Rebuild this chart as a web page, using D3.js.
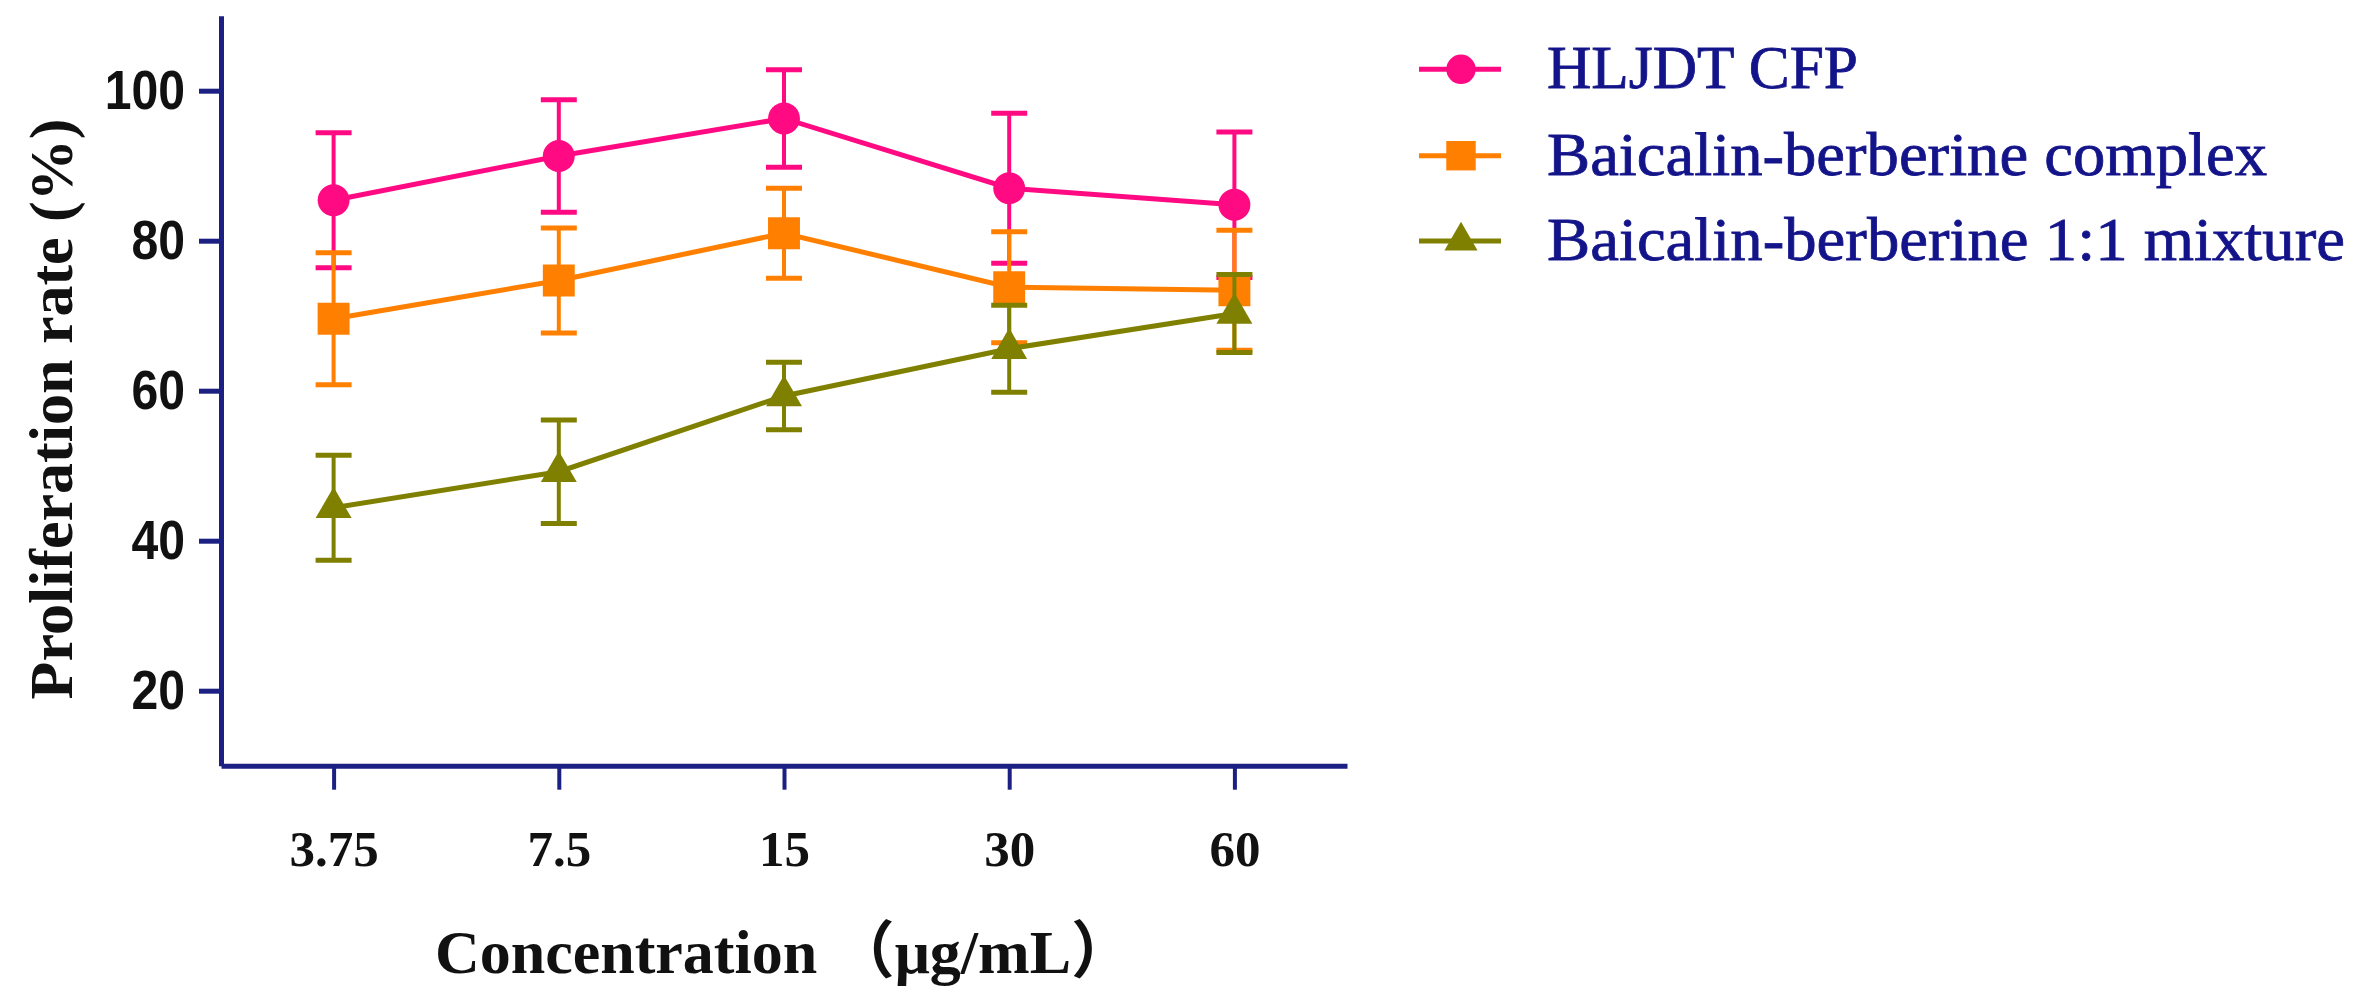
<!DOCTYPE html>
<html>
<head>
<meta charset="utf-8">
<script src="https://cdn.jsdelivr.net/npm/d3@7"></script>
<style>
    body { margin: 0; background: #fff; }
    svg { display: block; }
</style>
</head>
<body>
<svg width="2353" height="1004"></svg>
<script>
const width = 2353;
const height = 1004;

// data
const concentrations = ["3.75", "7.5", "15", "30", "60"];
const seriesNames = ["HLJDT CFP", "Baicalin-berberine complex", "Baicalin-berberine 1:1 mixture"];
const hljdtMean = [85.4, 91.3, 96.3, 87.0, 84.8];
const hljdtErr = [9.0, 7.5, 6.5, 10.0, 9.7];
const complexMean = [69.6, 74.7, 81.0, 73.8, 73.4];
const complexErr = [8.8, 7.0, 6.0, 7.4, 8.0];
const mixtureMean = [44.4, 49.2, 59.3, 65.6, 70.3];
const mixtureErr = [7.0, 6.9, 4.5, 5.8, 5.2];
const yTicks = [20, 40, 60, 80, 100];

const axisColor = "#1c2082";
const colors = ["#ff0a82", "#ff8000", "#808000"];
const symbols = [d3.symbolCircle, d3.symbolSquare, d3.symbolTriangle];
const symbolSizes = [800, 1020, 560];
const legendWidths = [311, 720, 798];

const series = [
    { name: seriesNames[0], mean: hljdtMean, err: hljdtErr },
    { name: seriesNames[1], mean: complexMean, err: complexErr },
    { name: seriesNames[2], mean: mixtureMean, err: mixtureErr }
];

const svg = d3.select("svg");

svg.append("rect")
    .attr("width", width)
    .attr("height", height)
    .attr("fill", "#fff");

// x scale
const xScale = d3.scalePoint()
    .domain(concentrations)
    .range([221, 1347])
    .padding(0.5);

// y scale
const yScale = d3.scaleLinear()
    .domain([10, 110])
    .range([765.7, 15.7]);

// y axis
const yAxis = svg.append("g")
    .attr("transform", "translate(221,0)")
    .call(d3.axisLeft(yScale)
        .tickValues(yTicks)
        .tickSize(22)
        .tickSizeOuter(0)
        .tickPadding(14));

yAxis.select(".domain").attr("stroke", axisColor).attr("stroke-width", 5);
yAxis.selectAll(".tick line").attr("stroke", axisColor).attr("stroke-width", 5);

// narrow look for the y tick numbers
const squeeze = 0.86;
yAxis.selectAll(".tick text")
    .attr("fill", "#111")
    .attr("x", -36 / squeeze)
    .attr("transform", `scale(${squeeze},1)`)
    .style("font-family", "'Liberation Sans', Arial, sans-serif")
    .style("font-weight", "bold")
    .style("font-size", "56px");

// x axis
const xAxis = svg.append("g")
    .attr("transform", "translate(0,765.7)")
    .call(d3.axisBottom(xScale)
        .tickSize(24)
        .tickSizeOuter(0)
        .tickPadding(40));

xAxis.select(".domain").attr("stroke", axisColor).attr("stroke-width", 5);
xAxis.selectAll(".tick line").attr("stroke", axisColor).attr("stroke-width", 4);
xAxis.selectAll(".tick text")
    .attr("fill", "#111")
    .style("font-family", "'Liberation Serif', 'Times New Roman', serif")
    .style("font-weight", "bold")
    .style("font-size", "51px");

// series: error bars, line, markers
const line = d3.line()
    .x((d, i) => xScale(concentrations[i]))
    .y(d => yScale(d));

const capHalf = 18;

series.forEach((s, k) => {
    const g = svg.append("g");
    const pts = s.mean.map((m, i) => ({ x: xScale(concentrations[i]), m: m, e: s.err[i] }));

    // error bars
    g.selectAll(".err")
        .data(pts)
        .join("line")
        .attr("x1", d => d.x)
        .attr("x2", d => d.x)
        .attr("y1", d => yScale(d.m + d.e))
        .attr("y2", d => yScale(d.m - d.e))
        .attr("stroke", colors[k])
        .attr("stroke-width", 4);

    [1, -1].forEach(sign => {
        g.selectAll(null)
            .data(pts)
            .join("line")
            .attr("x1", d => d.x - capHalf)
            .attr("x2", d => d.x + capHalf)
            .attr("y1", d => yScale(d.m + sign * d.e))
            .attr("y2", d => yScale(d.m + sign * d.e))
            .attr("stroke", colors[k])
            .attr("stroke-width", 5);
    });

    g.append("path")
        .datum(s.mean)
        .attr("d", line)
        .attr("fill", "none")
        .attr("stroke", colors[k])
        .attr("stroke-width", 5);

    g.selectAll(".pt")
        .data(pts)
        .join("path")
        .attr("transform", d => `translate(${d.x},${yScale(d.m)})`)
        .attr("d", d3.symbol().type(symbols[k]).size(symbolSizes[k]))
        .attr("fill", colors[k]);
});

// y axis label
svg.append("text")
    .attr("transform", "rotate(-90)")
    .attr("x", -409)
    .attr("y", 72)
    .attr("text-anchor", "middle")
    .style("font-family", "'Liberation Serif', 'Times New Roman', serif")
    .style("font-weight", "bold")
    .style("font-size", "62px")
    .attr("fill", "#111")
    .text("Proliferation rate (%)");

// x axis label
svg.append("text")
    .attr("x", 784)
    .attr("y", 973)
    .attr("text-anchor", "middle")
    .style("font-family", "'Liberation Serif', 'Times New Roman', 'Noto Sans CJK SC', serif")
    .style("font-weight", "bold")
    .style("font-size", "62px")
    .attr("fill", "#111")
    .text("Concentration （μg/mL）");

// legend
const legendY = [69.3, 155.7, 241];

series.forEach((s, k) => {
    const lg = svg.append("g")
        .attr("transform", `translate(1419,${legendY[k]})`);

    lg.append("line")
        .attr("x1", 0)
        .attr("x2", 82)
        .attr("stroke", colors[k])
        .attr("stroke-width", 5);

    lg.append("path")
        .attr("transform", "translate(42,0)")
        .attr("d", d3.symbol().type(symbols[k]).size(symbolSizes[k] * 0.85))
        .attr("fill", colors[k]);

    lg.append("text")
        .attr("x", 128)
        .attr("y", 19)
        .attr("textLength", legendWidths[k])
        .attr("lengthAdjust", "spacingAndGlyphs")
        .style("font-family", "'Liberation Serif', 'Times New Roman', serif")
        .style("font-size", "62px")
        .attr("fill", "#14148a")
        .attr("stroke", "#14148a")
        .attr("stroke-width", 0.8)
        .text(s.name);
});
</script>
</body>
</html>
